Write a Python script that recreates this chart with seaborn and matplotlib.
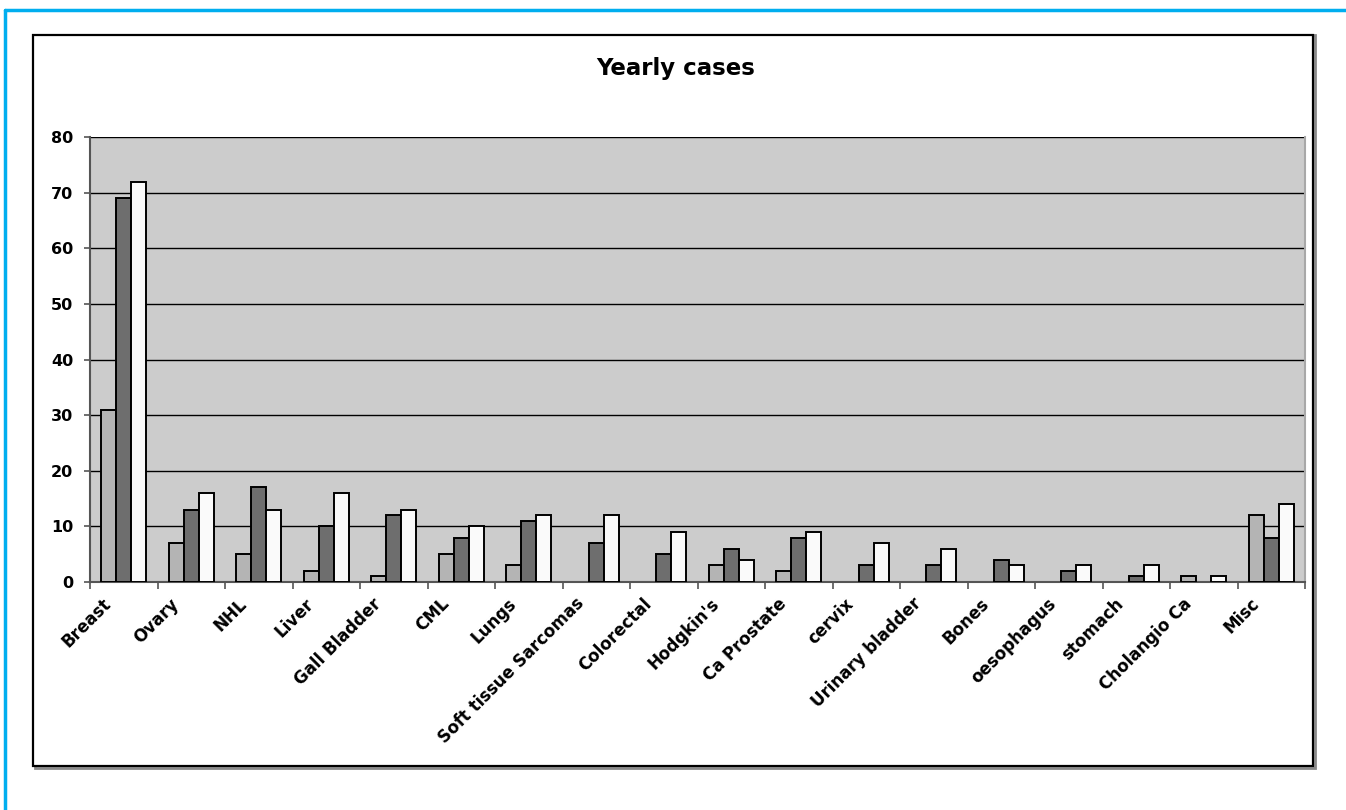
import numpy as np
import pandas as pd
import seaborn as sns
import matplotlib
matplotlib.use("Agg")
import matplotlib.pyplot as plt
from matplotlib.patches import Rectangle
from matplotlib.lines import Line2D
from matplotlib.transforms import ScaledTranslation

# Cancer sites and yearly case counts for three consecutive years
sites = ["Breast", "Ovary", "NHL", "Liver", "Gall Bladder", "CML", "Lungs",
         "Soft tissue Sarcomas", "Colorectal", "Hodgkin's", "Ca Prostate",
         "cervix", "Urinary bladder", "Bones", "oesophagus", "stomach",
         "Cholangio Ca", "Misc"]
year_1 = [31, 7, 5, 2, 1, 5, 3, 0, 0, 3, 2, 0, 0, 0, 0, 0, 1, 12]
year_2 = [69, 13, 17, 10, 12, 8, 11, 7, 5, 6, 8, 3, 3, 4, 2, 1, 0, 8]
year_3 = [72, 16, 13, 16, 13, 10, 12, 12, 9, 4, 9, 7, 6, 3, 3, 3, 1, 14]
series_names = ["Year 1", "Year 2", "Year 3"]
y_ticks = [0, 10, 20, 30, 40, 50, 60, 70, 80]

df = pd.DataFrame({
    "site": sites * 3,
    "year": np.repeat(series_names, len(sites)),
    "cases": year_1 + year_2 + year_3,
})

sns.set_theme(style="white")
plt.rcParams["font.family"] = ["DejaVu Sans"]
plt.rcParams["font.weight"] = "bold"
plt.rcParams["text.color"] = "black"
plt.rcParams["xtick.color"] = "black"
plt.rcParams["ytick.color"] = "black"

W, H = 1346, 810
fig = plt.figure(figsize=(W / 100, H / 100), dpi=100)
fig.patch.set_facecolor("white")

def fx(px):
    return px / W

def fy(py):
    return 1 - py / H

# Outer chart frame with a soft shadow
fig.add_artist(Rectangle((fx(35), fy(768)), fx(1280), (733) / H,
                         transform=fig.transFigure, fill=False,
                         edgecolor="#8a8a8a", lw=2, zorder=0))
fig.add_artist(Rectangle((fx(33), fy(766)), fx(1280), (731) / H,
                         transform=fig.transFigure, facecolor="white",
                         edgecolor="black", lw=1.6, zorder=1))
# Page border lines
fig.add_artist(Line2D([fx(5), fx(5)], [fy(10), 0], transform=fig.transFigure,
                      color="#00AEEF", lw=2.5, zorder=2))
fig.add_artist(Line2D([fx(5), 1], [fy(10), fy(10)], transform=fig.transFigure,
                      color="#00AEEF", lw=2.5, zorder=2))

ax = fig.add_axes([fx(90), fy(582), (1305 - 90) / W, (582 - 137) / H], zorder=3)
ax.set_facecolor("#CCCCCC")

palette = ["#B4B4B4", "#6E6E6E", "#FAFAFA"]
sns.barplot(data=df, x="site", y="cases", hue="year", palette=palette,
            width=0.667, edgecolor="black", linewidth=1.4, saturation=1,
            legend=False, ax=ax, zorder=3)

# Empty counts draw no bar outline
for bar in ax.patches:
    if bar.get_height() == 0:
        bar.set_visible(False)

ax.set_ylim(0, 80)
ax.set_xlim(-0.5, len(sites) - 0.5)
ax.set_yticks(y_ticks)
ax.set_yticklabels([str(v) for v in y_ticks], fontsize=11.5, fontweight="bold")
ax.yaxis.grid(True, color="black", lw=1)
ax.xaxis.grid(False)
ax.set_axisbelow(True)
ax.set_xlabel("")
ax.set_ylabel("")

# Category separators as minor ticks below the axis
ax.set_xticks(np.arange(len(sites) + 1) - 0.5, minor=True)
ax.tick_params(axis="x", which="minor", bottom=True, length=5, width=1.2,
               color="#555555", direction="out")
ax.tick_params(axis="x", which="major", bottom=False, length=0, pad=0)
ax.tick_params(axis="y", which="major", left=True, length=4, width=1.2,
               color="#555555", direction="out", pad=8)

ax.set_xticks(range(len(sites)))
ax.set_xticklabels(sites, rotation=45, ha="right", va="center",
                   rotation_mode="anchor", fontsize=12, fontweight="bold")
offset = ScaledTranslation(-0.15, -0.19, fig.dpi_scale_trans)
for lbl in ax.get_xticklabels():
    lbl.set_transform(lbl.get_transform() + offset)

ax.spines["top"].set_visible(False)
ax.spines["left"].set_color("#555555")
ax.spines["left"].set_linewidth(1.5)
ax.spines["bottom"].set_color("#555555")
ax.spines["bottom"].set_linewidth(1.5)
ax.spines["right"].set_color("#A8A8A8")
ax.spines["right"].set_linewidth(1.5)

fig.text(fx(676), fy(68), "Yearly cases", ha="center", va="center",
         fontsize=16.5, fontweight="bold", color="black", zorder=4)

fig.savefig("out.png", dpi=100)
